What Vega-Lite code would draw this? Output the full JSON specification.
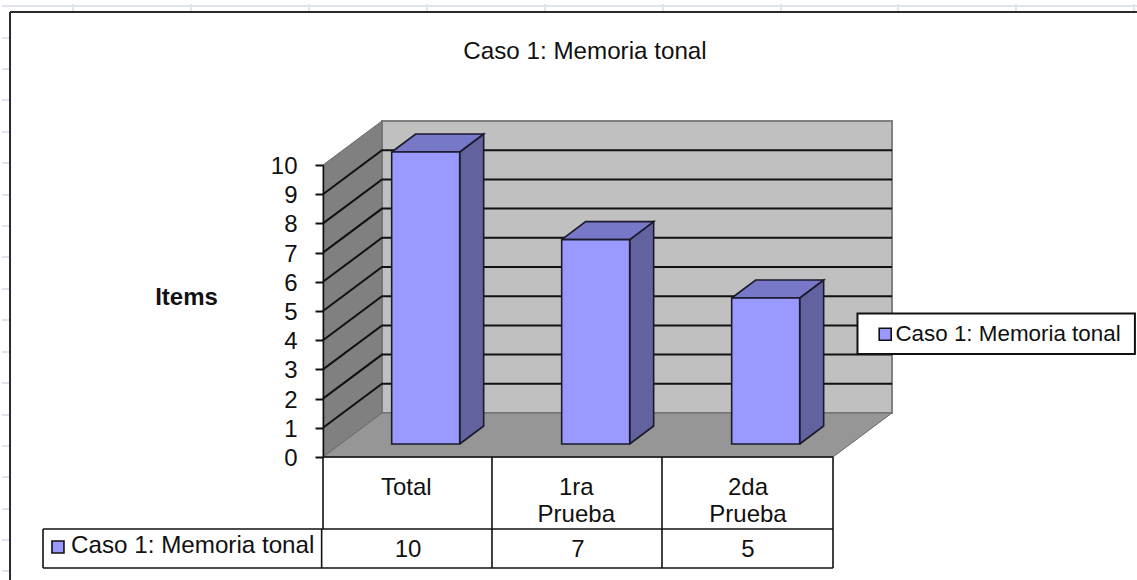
{
"$schema":"https://vega.github.io/schema/vega-lite/v6.json",
"width":510,"height":292,
"autosize":{"type":"none"},
"padding":{"left":323,"top":165,"right":304,"bottom":123},
"background":"white",
"title":{"text":"Caso 1: Memoria tonal","font":"Liberation Sans","fontSize":24.2,"fontWeight":"normal","color":"#111111","anchor":"middle","dx":7,"offset":-85,"baseline":"bottom"},
"config":{"view":{"stroke":null},"axisY":{"labelOverlap":false,"labelBound":false,"labelFlush":false}},
"datasets":{
"bars":[
{"categoria":"Total","valor":10,"x0":0.404,"x1":0.804,"xc":0.5,"xl":0.49,"serie":"Caso 1: Memoria tonal"},
{"categoria":"1ra Prueba","valor":7,"x0":1.404,"x1":1.804,"xc":1.5,"xl":1.49,"serie":"Caso 1: Memoria tonal"},
{"categoria":"2da Prueba","valor":5,"x0":2.404,"x1":2.804,"xc":2.5,"xl":2.5,"serie":"Caso 1: Memoria tonal"}],
"faces":[
{"face":"back","id":"b","i":0,"x":0.347,"y":1.507},{"face":"back","id":"b","i":1,"x":3.347,"y":1.507},{"face":"back","id":"b","i":2,"x":3.347,"y":11.507},{"face":"back","id":"b","i":3,"x":0.347,"y":11.507},{"face":"back","id":"b","i":4,"x":0.347,"y":1.507},
{"face":"left","id":"l","i":0,"x":0,"y":0},{"face":"left","id":"l","i":1,"x":0.347,"y":1.507},{"face":"left","id":"l","i":2,"x":0.347,"y":11.507},{"face":"left","id":"l","i":3,"x":0,"y":10},{"face":"left","id":"l","i":4,"x":0,"y":0},
{"face":"floor","id":"f","i":0,"x":0,"y":0},{"face":"floor","id":"f","i":1,"x":3,"y":0},{"face":"floor","id":"f","i":2,"x":3.347,"y":1.507},{"face":"floor","id":"f","i":3,"x":0.347,"y":1.507},{"face":"floor","id":"f","i":4,"x":0,"y":0},
{"face":"side","id":"s1","i":0,"x":0.804,"y":0},{"face":"side","id":"s1","i":1,"x":0.804,"y":10},{"face":"side","id":"s1","i":2,"x":0.945,"y":10.616},{"face":"side","id":"s1","i":3,"x":0.945,"y":0.616},{"face":"side","id":"s1","i":4,"x":0.804,"y":0},
{"face":"side","id":"s2","i":0,"x":1.804,"y":0},{"face":"side","id":"s2","i":1,"x":1.804,"y":7},{"face":"side","id":"s2","i":2,"x":1.945,"y":7.616},{"face":"side","id":"s2","i":3,"x":1.945,"y":0.616},{"face":"side","id":"s2","i":4,"x":1.804,"y":0},
{"face":"side","id":"s3","i":0,"x":2.804,"y":0},{"face":"side","id":"s3","i":1,"x":2.804,"y":5},{"face":"side","id":"s3","i":2,"x":2.945,"y":5.616},{"face":"side","id":"s3","i":3,"x":2.945,"y":0.616},{"face":"side","id":"s3","i":4,"x":2.804,"y":0},
{"face":"top","id":"t1","i":0,"x":0.404,"y":10},{"face":"top","id":"t1","i":1,"x":0.804,"y":10},{"face":"top","id":"t1","i":2,"x":0.945,"y":10.616},{"face":"top","id":"t1","i":3,"x":0.545,"y":10.616},{"face":"top","id":"t1","i":4,"x":0.404,"y":10},
{"face":"top","id":"t2","i":0,"x":1.404,"y":7},{"face":"top","id":"t2","i":1,"x":1.804,"y":7},{"face":"top","id":"t2","i":2,"x":1.945,"y":7.616},{"face":"top","id":"t2","i":3,"x":1.545,"y":7.616},{"face":"top","id":"t2","i":4,"x":1.404,"y":7},
{"face":"top","id":"t3","i":0,"x":2.404,"y":5},{"face":"top","id":"t3","i":1,"x":2.804,"y":5},{"face":"top","id":"t3","i":2,"x":2.945,"y":5.616},{"face":"top","id":"t3","i":3,"x":2.545,"y":5.616},{"face":"top","id":"t3","i":4,"x":2.404,"y":5}],
"grid":[
{"v":1,"i":0,"x":0,"y":1},{"v":1,"i":1,"x":0.347,"y":2.507},{"v":1,"i":2,"x":3.347,"y":2.507},
{"v":2,"i":0,"x":0,"y":2},{"v":2,"i":1,"x":0.347,"y":3.507},{"v":2,"i":2,"x":3.347,"y":3.507},
{"v":3,"i":0,"x":0,"y":3},{"v":3,"i":1,"x":0.347,"y":4.507},{"v":3,"i":2,"x":3.347,"y":4.507},
{"v":4,"i":0,"x":0,"y":4},{"v":4,"i":1,"x":0.347,"y":5.507},{"v":4,"i":2,"x":3.347,"y":5.507},
{"v":5,"i":0,"x":0,"y":5},{"v":5,"i":1,"x":0.347,"y":6.507},{"v":5,"i":2,"x":3.347,"y":6.507},
{"v":6,"i":0,"x":0,"y":6},{"v":6,"i":1,"x":0.347,"y":7.507},{"v":6,"i":2,"x":3.347,"y":7.507},
{"v":7,"i":0,"x":0,"y":7},{"v":7,"i":1,"x":0.347,"y":8.507},{"v":7,"i":2,"x":3.347,"y":8.507},
{"v":8,"i":0,"x":0,"y":8},{"v":8,"i":1,"x":0.347,"y":9.507},{"v":8,"i":2,"x":3.347,"y":9.507},
{"v":9,"i":0,"x":0,"y":9},{"v":9,"i":1,"x":0.347,"y":10.507},{"v":9,"i":2,"x":3.347,"y":10.507}],
"sheet":[
{"x":-1.888,"x2":4.788,"y":15.445,"y2":15.445},
{"x":-1.471,"x2":-1.471,"y":15.514,"y2":15.274},{"x":-0.776,"x2":-0.776,"y":15.514,"y2":15.274},{"x":-0.082,"x2":-0.082,"y":15.514,"y2":15.274},{"x":0.612,"x2":0.612,"y":15.514,"y2":15.274},{"x":1.306,"x2":1.306,"y":15.514,"y2":15.274},{"x":2,"x2":2,"y":15.514,"y2":15.274},{"x":2.694,"x2":2.694,"y":15.514,"y2":15.274},{"x":3.382,"x2":3.382,"y":15.514,"y2":15.274},{"x":4.076,"x2":4.076,"y":15.514,"y2":15.274},{"x":4.771,"x2":4.771,"y":15.514,"y2":15.274},
{"x":-1.888,"x2":-1.847,"y":14.35,"y2":14.35},{"x":-1.888,"x2":-1.847,"y":13.288,"y2":13.288},{"x":-1.888,"x2":-1.847,"y":12.226,"y2":12.226},{"x":-1.888,"x2":-1.847,"y":11.13,"y2":11.13},{"x":-1.888,"x2":-1.847,"y":10.068,"y2":10.068},{"x":-1.888,"x2":-1.847,"y":8.973,"y2":8.973},{"x":-1.888,"x2":-1.847,"y":7.911,"y2":7.911},{"x":-1.888,"x2":-1.847,"y":6.849,"y2":6.849},{"x":-1.888,"x2":-1.847,"y":5.753,"y2":5.753},{"x":-1.888,"x2":-1.847,"y":4.692,"y2":4.692},{"x":-1.888,"x2":-1.847,"y":3.596,"y2":3.596},{"x":-1.888,"x2":-1.847,"y":2.534,"y2":2.534},{"x":-1.888,"x2":-1.847,"y":1.438,"y2":1.438},{"x":-1.888,"x2":-1.847,"y":0.377,"y2":0.377},{"x":-1.888,"x2":-1.847,"y":-0.685,"y2":-0.685},{"x":-1.888,"x2":-1.847,"y":-1.781,"y2":-1.781},{"x":-1.888,"x2":-1.847,"y":-2.842,"y2":-2.842},{"x":-1.888,"x2":-1.847,"y":-3.904,"y2":-3.904}],
"frame":[
{"x":-1.841,"x2":4.788,"y":15.24,"y2":15.24},
{"x":-1.841,"x2":-1.841,"y":15.24,"y2":-4.212}],
"table":[
{"x":0,"x2":3,"y":0,"y2":0},
{"x":0,"x2":0,"y":0,"y2":-2.466},
{"x":-0.008,"x2":-0.008,"y":-2.466,"y2":-3.801},
{"x":0.994,"x2":0.994,"y":0,"y2":-3.801},
{"x":1.994,"x2":1.994,"y":0,"y2":-3.801},
{"x":3,"x2":3,"y":0,"y2":-3.801},
{"x":-1.647,"x2":3,"y":-2.466,"y2":-2.466},
{"x":-1.647,"x2":3,"y":-3.801,"y2":-3.801},
{"x":-1.647,"x2":-1.647,"y":-2.466,"y2":-3.801}],
"legendbox":[{"x":3.144,"x2":4.776,"y":4.911,"y2":3.527}],
"tablekey":[{"sx":-1.559,"sy":-3.082,"tx":-1.482,"ty":-3.048,"label":"Caso 1: Memoria tonal"}]
},
"layer":[
{"data":{"name":"sheet"},"mark":{"type":"rule","stroke":"#dfe3f0","strokeWidth":2},
"encoding":{"x":{"field":"x","type":"quantitative","scale":{"domain":[0,3]},"axis":null},"x2":{"field":"x2"},"y":{"field":"y","type":"quantitative","scale":{"domain":[0,10]},"axis":{"title":"Items","values":[0,1,2,3,4,5,6,7,8,9,10],"tickCount":11,"format":"d","grid":false,"zindex":1,"domainColor":"#111111","domainWidth":1.5,"tickColor":"#111111","tickWidth":2,"tickSize":8,"labelFont":"Liberation Sans","labelFontSize":24,"labelColor":"#111111","labelPadding":18,"labelOffset":1.5,"labelOverlap":false,"titleFont":"Liberation Sans","titleFontSize":24,"titleFontWeight":"bold","titleColor":"#111111","titleAngle":0,"titleAlign":"center","titleBaseline":"middle","titleX":-137,"titleY":132}},"y2":{"field":"y2"}}},
{"data":{"name":"frame"},"mark":{"type":"rule","stroke":"#2a2a2a","strokeWidth":2},
"encoding":{"x":{"field":"x","type":"quantitative","axis":null},"x2":{"field":"x2"},"y":{"field":"y","type":"quantitative"},"y2":{"field":"y2"}}},
{"data":{"name":"faces"},"transform":[{"filter":"datum.face==='back'"}],"mark":{"type":"line","fill":"#c0c0c0","stroke":"#808080","strokeWidth":2},
"encoding":{"x":{"field":"x","type":"quantitative","axis":null},"y":{"field":"y","type":"quantitative"},"order":{"field":"i"},"detail":{"field":"id"}}},
{"data":{"name":"faces"},"transform":[{"filter":"datum.face==='left'"}],"mark":{"type":"line","fill":"#808080","stroke":"#6a6a6a","strokeWidth":1},
"encoding":{"x":{"field":"x","type":"quantitative","axis":null},"y":{"field":"y","type":"quantitative"},"order":{"field":"i"},"detail":{"field":"id"}}},
{"data":{"name":"faces"},"transform":[{"filter":"datum.face==='floor'"}],"mark":{"type":"line","fill":"#969696","stroke":"#6a6a6a","strokeWidth":1},
"encoding":{"x":{"field":"x","type":"quantitative","axis":null},"y":{"field":"y","type":"quantitative"},"order":{"field":"i"},"detail":{"field":"id"}}},
{"data":{"name":"grid"},"mark":{"type":"line","stroke":"#111111","strokeWidth":2},
"encoding":{"x":{"field":"x","type":"quantitative","axis":null},"y":{"field":"y","type":"quantitative"},"order":{"field":"i"},"detail":{"field":"v"}}},
{"data":{"name":"faces"},"transform":[{"filter":"datum.face==='side'"}],"mark":{"type":"line","fill":"#62629f","stroke":"#1a1a2a","strokeWidth":1.6,"yOffset":-13},
"encoding":{"x":{"field":"x","type":"quantitative","axis":null},"y":{"field":"y","type":"quantitative"},"order":{"field":"i"},"detail":{"field":"id"}}},
{"data":{"name":"faces"},"transform":[{"filter":"datum.face==='top'"}],"mark":{"type":"line","fill":"#7878c8","stroke":"#1a1a2a","strokeWidth":1.6,"yOffset":-13},
"encoding":{"x":{"field":"x","type":"quantitative","axis":null},"y":{"field":"y","type":"quantitative"},"order":{"field":"i"},"detail":{"field":"id"}}},
{"data":{"name":"bars"},"mark":{"type":"rect","stroke":"#1a1a2a","strokeWidth":1.6,"yOffset":-13,"y2Offset":-13},
"encoding":{"x":{"field":"x0","type":"quantitative","axis":null},"x2":{"field":"x1"},
"y":{"field":"valor","type":"quantitative"},
"y2":{"datum":0},
"color":{"field":"serie","type":"nominal","scale":{"range":["#9999ff"]},"legend":{"orient":"none","legendX":551,"legendY":158,"title":null,"padding":0,"symbolType":"square","symbolSize":144,"symbolStrokeColor":"#111111","symbolStrokeWidth":1.6,"labelFont":"Liberation Sans","labelFontSize":22.4,"labelColor":"#111111","labelOffset":-1,"labelLimit":300}}}},
{"data":{"name":"legendbox"},"mark":{"type":"rect","fill":"white","stroke":"#111111","strokeWidth":2},
"encoding":{"x":{"field":"x","type":"quantitative","axis":null},"x2":{"field":"x2"},"y":{"field":"y","type":"quantitative"},"y2":{"field":"y2"}}},
{"data":{"name":"table"},"mark":{"type":"rule","stroke":"#111111","strokeWidth":1.6},
"encoding":{"x":{"field":"x","type":"quantitative","axis":null},"x2":{"field":"x2"},"y":{"field":"y","type":"quantitative"},"y2":{"field":"y2"}}},
{"data":{"name":"bars"},"mark":{"type":"text","font":"Liberation Sans","fontSize":24,"color":"#111111","align":"center","baseline":"top","lineBreak":" ","lineHeight":27},
"encoding":{"x":{"field":"xl","type":"quantitative","axis":null},"y":{"datum":-0.65,"type":"quantitative"},"text":{"field":"categoria","type":"nominal"}}},
{"data":{"name":"bars"},"mark":{"type":"text","font":"Liberation Sans","fontSize":24,"color":"#111111","align":"center","baseline":"middle"},
"encoding":{"x":{"field":"xc","type":"quantitative","axis":null},"y":{"datum":-3.185,"type":"quantitative"},"text":{"field":"valor","type":"quantitative"}}},
{"data":{"name":"tablekey"},"mark":{"type":"point","shape":"square","size":144,"filled":true,"fill":"#9999ff","stroke":"#111111","strokeWidth":1.6,"opacity":1},
"encoding":{"x":{"field":"sx","type":"quantitative","axis":null},"y":{"field":"sy","type":"quantitative"}}},
{"data":{"name":"tablekey"},"mark":{"type":"text","font":"Liberation Sans","fontSize":24.2,"color":"#111111","align":"left","baseline":"middle"},
"encoding":{"x":{"field":"tx","type":"quantitative","axis":null},"y":{"field":"ty","type":"quantitative"},"text":{"field":"label","type":"nominal"}}}
]
}
